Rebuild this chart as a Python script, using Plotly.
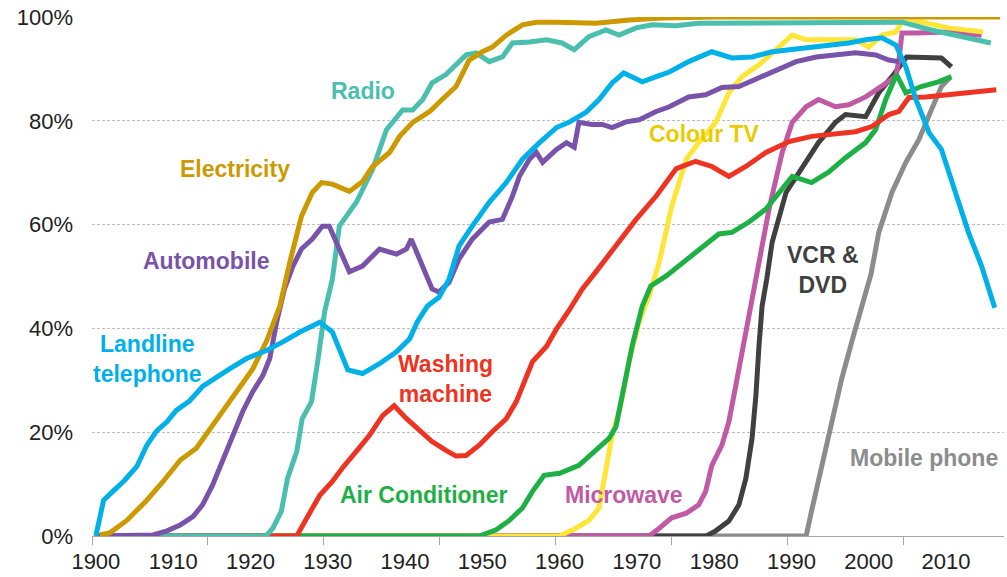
import plotly.graph_objects as go

# ---------------- data ----------------
mobile_x = [1900, 1991.9, 1992.6, 1993.9, 1995.2, 1996.5, 1997.8, 1999.1, 2000.3, 2001.3, 2003, 2004.8, 2006.5, 2008.1, 2009.4, 2010.6]
mobile_y = [0, 0, 4.8, 13.6, 22.6, 30.3, 37.4, 43.8, 50.5, 58.5, 66.2, 72, 76.4, 82.1, 86.6, 88.5]

vcr_x = [1900, 1979, 1980.2, 1981.9, 1983.2, 1984.1, 1984.9, 1985.4, 1985.8, 1986.2, 1986.8, 1987.5, 1989.3, 1991.3, 1993.5, 1995.7, 1997, 1999.6, 2000.4, 2001.3, 2003, 2004.3, 2004.9, 2009.4, 2010.7]
vcr_y = [0, 0, 1, 2.9, 6, 11.1, 18.8, 27.1, 36.7, 44.3, 49.5, 56.6, 66.2, 70.6, 75.8, 79.7, 81.2, 80.8, 83.1, 85.4, 88.5, 91.2, 92.3, 92.1, 90.4]

micro_x = [1900, 1971.6, 1972.9, 1974.5, 1976.4, 1978, 1978.9, 1979.7, 1981, 1981.9, 1982.8, 1983.6, 1984.5, 1985.4, 1985.8, 1987.1, 1988.8, 1990.1, 1991.9, 1993.5, 1995.7, 1997.4, 1999.6, 2001.7, 2003.5, 2003.9, 2004.3, 2006.1, 2010.3, 2014.6]
micro_y = [0, 0, 1.5, 3.5, 4.4, 6, 8.6, 13.6, 17.5, 22, 29, 35.5, 43.2, 49.5, 53.4, 63, 73.9, 79.7, 82.7, 84.1, 82.7, 83.1, 84.6, 86.6, 88.5, 91.7, 96.9, 96.9, 97.1, 96.5]

ctv_x = [1900, 1960, 1962.1, 1963.8, 1965.1, 1966, 1966.8, 1967.9, 1969, 1970.3, 1971.6, 1972.9, 1974.5, 1976.4, 1978, 1980.2, 1981.9, 1983.6, 1985.8, 1988, 1990.1, 1991.9, 1995.2, 1998.3, 2000, 2001.7, 2003.5, 2004.3, 2007, 2010.3, 2014.8]
ctv_y = [0, 0, 1.5, 3, 5.4, 13.6, 19.4, 25.1, 33.6, 41.3, 46.3, 52.8, 63.5, 72.6, 75.8, 79.7, 85.4, 88.5, 90.8, 93.7, 96.5, 95.6, 95.6, 95.6, 94.2, 96.5, 97.1, 99, 99, 97.9, 97.1]

ac_x = [1900, 1949.6, 1951.8, 1953.5, 1955.2, 1956.5, 1958, 1960, 1962.5, 1964.7, 1966.4, 1967.3, 1968.1, 1969.4, 1970.7, 1971.8, 1973.8, 1976, 1978, 1980.6, 1982.3, 1984.5, 1986.7, 1988.8, 1990.1, 1992.6, 1994.8, 1997, 1999.6, 2000.9, 2002.2, 2003.6, 2004.8, 2006.8, 2009, 2010.7]
ac_y = [0, 0, 1.2, 3, 5.4, 8.6, 11.7, 12.1, 13.6, 16.5, 18.8, 21.1, 27.1, 36.7, 44.3, 48.2, 50.1, 52.8, 55.3, 58.2, 58.5, 60.5, 63, 66.8, 69.3, 68.1, 70.1, 72.9, 75.8, 78.3, 84.1, 88.9, 85.4, 86.6, 87.5, 88.5]

wash_x = [1900, 1926, 1927.3, 1929, 1930.6, 1931.9, 1933.7, 1935.4, 1937.1, 1938.6, 1940.2, 1941.9, 1943.5, 1945.3, 1946.6, 1947.9, 1949.6, 1951.3, 1953.1, 1954.4, 1955.7, 1956.5, 1958.3, 1959.6, 1961.2, 1962.9, 1964.7, 1967.3, 1969.9, 1972.5, 1975.1, 1977.6, 1979.7, 1981.9, 1984.1, 1986.7, 1989.7, 1992.6, 1995.7, 1998.3, 2000.4, 2002.6, 2003.9, 2005.2, 2007.4, 2010.3, 2012.9, 2016.5]
wash_y = [0, 0, 3.5, 7.9, 10.5, 13.1, 16.3, 19.4, 23.2, 25.1, 22.6, 20.3, 18.2, 16.5, 15.4, 15.5, 17.5, 20.1, 22.6, 25.9, 30.3, 33.6, 36.5, 39.9, 43.4, 47.5, 50.9, 55.9, 61, 65.5, 70.8, 72.2, 71.2, 69.3, 71.2, 73.9, 76, 77, 77.4, 77.9, 78.9, 81.2, 81.8, 84.5, 84.6, 85, 85.4, 86]

radio_x = [1900, 1922, 1922.9, 1924, 1924.8, 1926, 1926.7, 1927.9, 1928.7, 1929.6, 1930.6, 1931.5, 1933.7, 1935.8, 1937.6, 1939.7, 1941, 1942.3, 1943.5, 1945.3, 1946.6, 1947.9, 1949.2, 1950.9, 1952.6, 1953.9, 1956.1, 1958.3, 1960.3, 1961.9, 1963.8, 1966, 1967.7, 1969.9, 1972, 1975, 1978, 2002, 2004.3, 2008.1, 2012.5, 2015.8]
radio_y = [0, 0, 1.5, 4.8, 11.1, 16.3, 22.6, 25.9, 33.6, 43.2, 49.5, 59.7, 64.3, 70.6, 78.3, 82.1, 82.1, 84.1, 87.3, 88.9, 90.8, 92.7, 93.1, 91.4, 92.3, 95, 95.2, 95.6, 95, 93.7, 96.2, 97.5, 96.5, 97.9, 98.5, 98.3, 98.8, 99, 99, 97.5, 96.2, 95]

auto_x = [1900, 1907.4, 1909.2, 1910.9, 1912.6, 1913.8, 1915.1, 1916.4, 1917.7, 1919, 1920.3, 1921.6, 1922.5, 1923.4, 1924.4, 1925.5, 1926.6, 1928, 1929.3, 1930.2, 1931.5, 1932.8, 1934.5, 1936.7, 1938.9, 1940.2, 1940.8, 1942.3, 1943.5, 1944.4, 1945.7, 1947, 1948.7, 1950.9, 1952.6, 1953.9, 1954.8, 1956.1, 1957, 1957.8, 1959.6, 1960.9, 1961.9, 1962.5, 1964.2, 1965.5, 1966.8, 1968.6, 1970.3, 1972.5, 1974.2, 1976.7, 1978.9, 1981, 1983.2, 1985.8, 1988, 1990.6, 1993.2, 1995.7, 1998.3, 2000.9, 2002.6, 2003.9]
auto_y = [0, 0.2, 1, 2.1, 3.8, 6, 9.8, 14.4, 19.4, 24, 27.8, 30.9, 34.2, 41.3, 47.6, 52, 55.3, 57.2, 59.7, 59.7, 55.3, 50.9, 52, 55.3, 54.3, 55.3, 57.2, 52, 47.6, 47, 48.9, 53.4, 57.2, 60.5, 61, 65.5, 69.3, 72.6, 73.9, 72, 74.5, 75.8, 74.9, 79.7, 79.3, 79.3, 78.7, 79.8, 80.2, 81.8, 82.7, 84.6, 85, 86.4, 86.6, 88.3, 89.8, 91.4, 92.3, 92.7, 93.1, 92.7, 91.7, 91.4]

elec_x = [1900.5, 1901.8, 1904, 1906.6, 1908.7, 1910.9, 1913, 1915.1, 1917.7, 1920.3, 1922.1, 1923.8, 1925.1, 1926.6, 1928, 1929.2, 1930.6, 1932.8, 1934.5, 1935.8, 1938, 1939.3, 1941, 1943.2, 1944.8, 1946.6, 1948.3, 1950, 1951.3, 1953.1, 1955.2, 1957, 1959.7, 1964.7, 1969, 1973.3, 1980, 2017]
elec_y = [0.2, 0.6, 3, 6.9, 10.5, 14.6, 16.9, 21.3, 26.5, 32.2, 37.6, 44.3, 52.8, 61.6, 66.2, 68.1, 67.8, 66.4, 68.3, 71.2, 73.9, 77, 79.7, 81.8, 84.1, 86.6, 91.7, 93.3, 94.2, 96.5, 98.5, 99, 99, 98.8, 99.4, 99.8, 100, 100]

tel_x = [1900, 1901, 1902.2, 1903.7, 1905.3, 1906.6, 1907.9, 1909.2, 1910.4, 1912.1, 1913.8, 1915.6, 1917.3, 1919.5, 1922, 1924.2, 1926.4, 1929, 1930.6, 1932.6, 1934.5, 1936.7, 1938.9, 1940.6, 1941.6, 1942.9, 1944.4, 1945.7, 1947, 1948.7, 1950.9, 1953.1, 1955.2, 1957.4, 1959.6, 1961.2, 1963.4, 1965.1, 1966.8, 1968.3, 1969.4, 1970.7, 1972.5, 1974.2, 1976.7, 1979.7, 1982.3, 1984.9, 1987.5, 1990.1, 1992.6, 1995.2, 1997.4, 1999.6, 2001.7, 2003.5, 2004.8, 2006.1, 2007.8, 2009.4, 2011.2, 2012.9, 2014.6, 2016.3]
tel_y = [0, 6.9, 8.6, 10.7, 13.4, 17.5, 20.3, 22, 24.2, 26, 28.8, 30.7, 32.2, 34.2, 35.7, 37.4, 39.3, 41.2, 39.3, 32, 31.3, 33.2, 35.5, 38, 41.3, 44.3, 46, 49.5, 55.9, 59.7, 64.3, 68.1, 72.6, 75.8, 78.7, 79.7, 81.6, 84.1, 87.3, 89.2, 88.5, 87.5, 88.5, 89.4, 91.4, 93.3, 92.1, 92.3, 93.3, 93.7, 94.3, 94.6, 95, 95.6, 96, 94.6, 90.4, 84.1, 77.7, 74.5, 66.2, 58.5, 52, 44]

x_label_years = [1900, 1910, 1920, 1930, 1940, 1950, 1960, 1970, 1980, 1990, 2000, 2010]
y_ticks = [0, 20, 40, 60, 80, 100]
y_tick_text = ["0%", "20%", "40%", "60%", "80%", "100%"]

# series: (name, x, y, line colour, label text, label colour, label x, label y)
series = [
    ("Mobile phone", mobile_x, mobile_y, "#8C8C8C", "Mobile phone", "#8C8C8C", 2007.1, 15.0),
    ("VCR & DVD", vcr_x, vcr_y, "#404040", "VCR &amp;<br>DVD", "#404040", 1994.1, 51.2),
    ("Microwave", micro_x, micro_y, "#C05AA5", "Microwave", "#C05AA5", 1968.3, 7.9),
    ("Colour TV", ctv_x, ctv_y, "#FFE535", "Colour TV", "#E8CC00", 1978.8, 77.4),
    ("Air Conditioner", ac_x, ac_y, "#1DB045", "Air Conditioner", "#1DB045", 1942.4, 7.9),
    ("Washing machine", wash_x, wash_y, "#EE3322", "Washing<br>machine", "#EE3322", 1945.3, 30.3),
    ("Radio", radio_x, radio_y, "#4BBFAD", "Radio", "#4BBFAD", 1934.6, 85.8),
    ("Automobile", auto_x, auto_y, "#7953A9", "Automobile", "#7953A9", 1914.3, 53.0),
    ("Electricity", elec_x, elec_y, "#CC9900", "Electricity", "#CC9900", 1918.0, 70.8),
    ("Landline telephone", tel_x, tel_y, "#00B0E8", "Landline<br>telephone", "#00B0E8", 1906.7, 34.2),
]

fig = go.Figure()
for name, xs, ys, col, lab, lcol, lx, ly in series:
    fig.add_trace(go.Scatter(x=xs, y=ys, mode="lines", name=name,
                             line=dict(color=col, width=5), hoverinfo="skip"))
    fig.add_annotation(x=lx, y=ly, xref="x", yref="y", text=f"<b>{lab}</b>",
                       showarrow=False, align="center",
                       font=dict(family="Liberation Sans, Arial, sans-serif", size=23, color=lcol))

fig.update_layout(
    width=1007, height=577,
    margin=dict(l=92, r=3, t=17, b=39),
    paper_bgcolor="white", plot_bgcolor="white",
    showlegend=False,
    font=dict(family="Liberation Sans, Arial, sans-serif", size=22, color="#222222"),
)
fig.update_xaxes(
    range=[1899.5, 2017.5],
    tickmode="array", tickvals=x_label_years, ticktext=[str(v) for v in x_label_years],
    ticks="", ticklabelstandoff=6,
    showgrid=False, zeroline=False,
    showline=True, linecolor="#A6A6A6", linewidth=1,
    minor=dict(tickmode="linear", tick0=1899.5, dtick=15, ticks="outside",
               ticklen=8, tickcolor="#A6A6A6", tickwidth=1, showgrid=False),
    tickfont=dict(size=22, color="#222222"),
)
fig.update_yaxes(
    range=[0, 100],
    tickmode="array", tickvals=y_ticks, ticktext=y_tick_text,
    ticks="", ticklabelstandoff=18,
    showgrid=True, gridcolor="#BFBFBF", gridwidth=1, griddash="3px,2px",
    zeroline=False, showline=False,
    tickfont=dict(size=22, color="#222222"),
)

fig.write_html("out.html", config={"displayModeBar": False},
               post_script="document.body.style.margin='0';")
